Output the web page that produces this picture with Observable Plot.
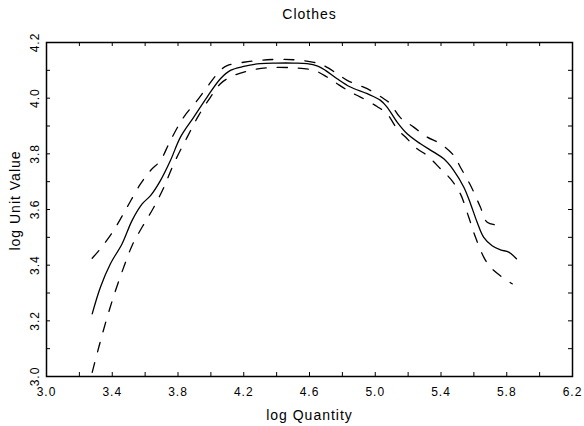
<!DOCTYPE html>
<html>
<head>
<meta charset="utf-8">
<script src="https://cdn.jsdelivr.net/npm/d3@7"></script>
<script src="https://cdn.jsdelivr.net/npm/@observablehq/plot@0.6"></script>
<style>
  html, body { margin: 0; padding: 0; background: #fff; }
  svg { display: block; }
  text { letter-spacing: 1px; }
</style>
</head>
<body>
<div id="chart"></div>
<script>
const chartTitle = "Clothes";
const xTitle = "log Quantity";
const yTitle = "log Unit Value";

// Solid curve (estimate)
const solidX = [3.278, 3.328, 3.389, 3.46, 3.521, 3.582, 3.633, 3.693, 3.754, 3.815, 3.896, 3.977, 4.058, 4.119, 4.2, 4.30, 4.40, 4.504, 4.585, 4.65, 4.697, 4.768, 4.849, 4.951, 5.032, 5.072, 5.133, 5.194, 5.275, 5.356, 5.417, 5.478, 5.539, 5.58, 5.62, 5.66, 5.711, 5.762, 5.812, 5.859];
const solidY = [3.225, 3.321, 3.405, 3.477, 3.561, 3.62, 3.65, 3.704, 3.776, 3.86, 3.932, 4.004, 4.07, 4.10, 4.114, 4.124, 4.126, 4.126, 4.124, 4.115, 4.10, 4.07, 4.04, 4.016, 3.992, 3.968, 3.914, 3.872, 3.836, 3.806, 3.782, 3.74, 3.68, 3.62, 3.554, 3.50, 3.47, 3.455, 3.447, 3.423];

// Upper dashed band
const upperX = [3.278, 3.328, 3.409, 3.49, 3.572, 3.633, 3.693, 3.754, 3.835, 3.917, 3.977, 4.058, 4.099, 4.2, 4.342, 4.504, 4.626, 4.687, 4.768, 4.829, 4.951, 5.052, 5.092, 5.153, 5.234, 5.316, 5.397, 5.478, 5.518, 5.58, 5.64, 5.681, 5.762];
const upperY = [3.425, 3.459, 3.525, 3.608, 3.692, 3.74, 3.776, 3.848, 3.932, 3.992, 4.04, 4.10, 4.117, 4.129, 4.138, 4.138, 4.129, 4.117, 4.088, 4.064, 4.034, 3.998, 3.98, 3.93, 3.896, 3.86, 3.836, 3.794, 3.752, 3.686, 3.608, 3.554, 3.543];

// Lower dashed band
const lowerX = [3.278, 3.318, 3.369, 3.42, 3.47, 3.521, 3.582, 3.653, 3.714, 3.774, 3.856, 3.926, 3.998, 4.058, 4.119, 4.221, 4.342, 4.504, 4.626, 4.707, 4.768, 4.849, 4.91, 5.011, 5.072, 5.133, 5.194, 5.255, 5.316, 5.397, 5.458, 5.518, 5.569, 5.61, 5.66, 5.70, 5.772, 5.833];
const lowerY = [3.015, 3.105, 3.213, 3.309, 3.393, 3.471, 3.537, 3.608, 3.68, 3.764, 3.86, 3.938, 4.004, 4.052, 4.076, 4.097, 4.109, 4.109, 4.10, 4.076, 4.052, 4.022, 4.004, 3.97, 3.944, 3.89, 3.854, 3.818, 3.794, 3.746, 3.71, 3.656, 3.572, 3.50, 3.429, 3.393, 3.357, 3.333];

const xTickValues = [3.0, 3.2, 3.4, 3.6, 3.8, 4.0, 4.2, 4.4, 4.6, 4.8, 5.0, 5.2, 5.4, 5.6, 5.8, 6.0, 6.2];
const yTickValues = [3.0, 3.1, 3.2, 3.3, 3.4, 3.5, 3.6, 3.7, 3.8, 3.9, 4.0, 4.1, 4.2];
const xLabels = [3.0, 3.4, 3.8, 4.2, 4.6, 5.0, 5.4, 5.8, 6.2];
const yLabels = [3.0, 3.2, 3.4, 3.6, 3.8, 4.0, 4.2];

const toRows = (xs, ys) => xs.map((x, i) => ({x, y: ys[i]}));
const solid = toRows(solidX, solidY);
const upper = toRows(upperX, upperY);
const lower = toRows(lowerX, lowerY);

const W = 584, H = 426;
const mL = 46, mR = 12, mT = 42, mB = 50;
const fw = W - mL - mR, fh = H - mT - mB;
const tickLen = 4;
const fmt = d => d.toFixed(1);

const chart = Plot.plot({
  width: W,
  height: H,
  marginLeft: mL,
  marginRight: mR,
  marginTop: mT,
  marginBottom: mB,
  style: {fontFamily: "'Liberation Sans', Arial, sans-serif", background: "#fff", color: "#000"},
  x: {domain: [3.0, 6.2], axis: null},
  y: {domain: [3.0, 4.2], axis: null},
  marks: [
    Plot.frame({stroke: "#000", strokeWidth: 1.5}),
    // inward ticks on four sides
    Plot.ruleX(xTickValues, {x: d => d, insetTop: fh - tickLen, stroke: "#000"}),
    Plot.ruleX(xTickValues, {x: d => d, insetBottom: fh - tickLen, stroke: "#000"}),
    Plot.ruleY(yTickValues, {y: d => d, insetRight: fw - tickLen, stroke: "#000"}),
    Plot.ruleY(yTickValues, {y: d => d, insetLeft: fw - tickLen, stroke: "#000"}),
    // curves
    Plot.line(upper, {x: "x", y: "y", stroke: "#000", strokeWidth: 1.3, strokeDasharray: "10,11", curve: "catmull-rom"}),
    Plot.line(lower, {x: "x", y: "y", stroke: "#000", strokeWidth: 1.3, strokeDasharray: "10,11", curve: "catmull-rom"}),
    Plot.line(solid, {x: "x", y: "y", stroke: "#000", strokeWidth: 1.3, curve: "catmull-rom"}),
    // tick labels
    Plot.text(xLabels, {x: d => d, text: fmt, frameAnchor: "bottom", dy: 16, lineAnchor: "middle", fontSize: 12, fill: "#000"}),
    Plot.text(yLabels, {y: d => d, text: fmt, frameAnchor: "left", dx: -11, rotate: -90, textAnchor: "middle", lineAnchor: "middle", fontSize: 12, fill: "#000"}),
    // titles
    Plot.text([chartTitle], {text: d => d, frameAnchor: "top", dy: -28, lineAnchor: "middle", fontSize: 14, fill: "#000"}),
    Plot.text([xTitle], {text: d => d, frameAnchor: "bottom", dy: 39, lineAnchor: "middle", fontSize: 14, fill: "#000"}),
    Plot.text([yTitle], {text: d => d, frameAnchor: "left", dx: -31, dy: -9, rotate: -90, textAnchor: "middle", lineAnchor: "middle", fontSize: 14, fill: "#000"})
  ]
});
document.getElementById("chart").appendChild(chart);
</script>
</body>
</html>
